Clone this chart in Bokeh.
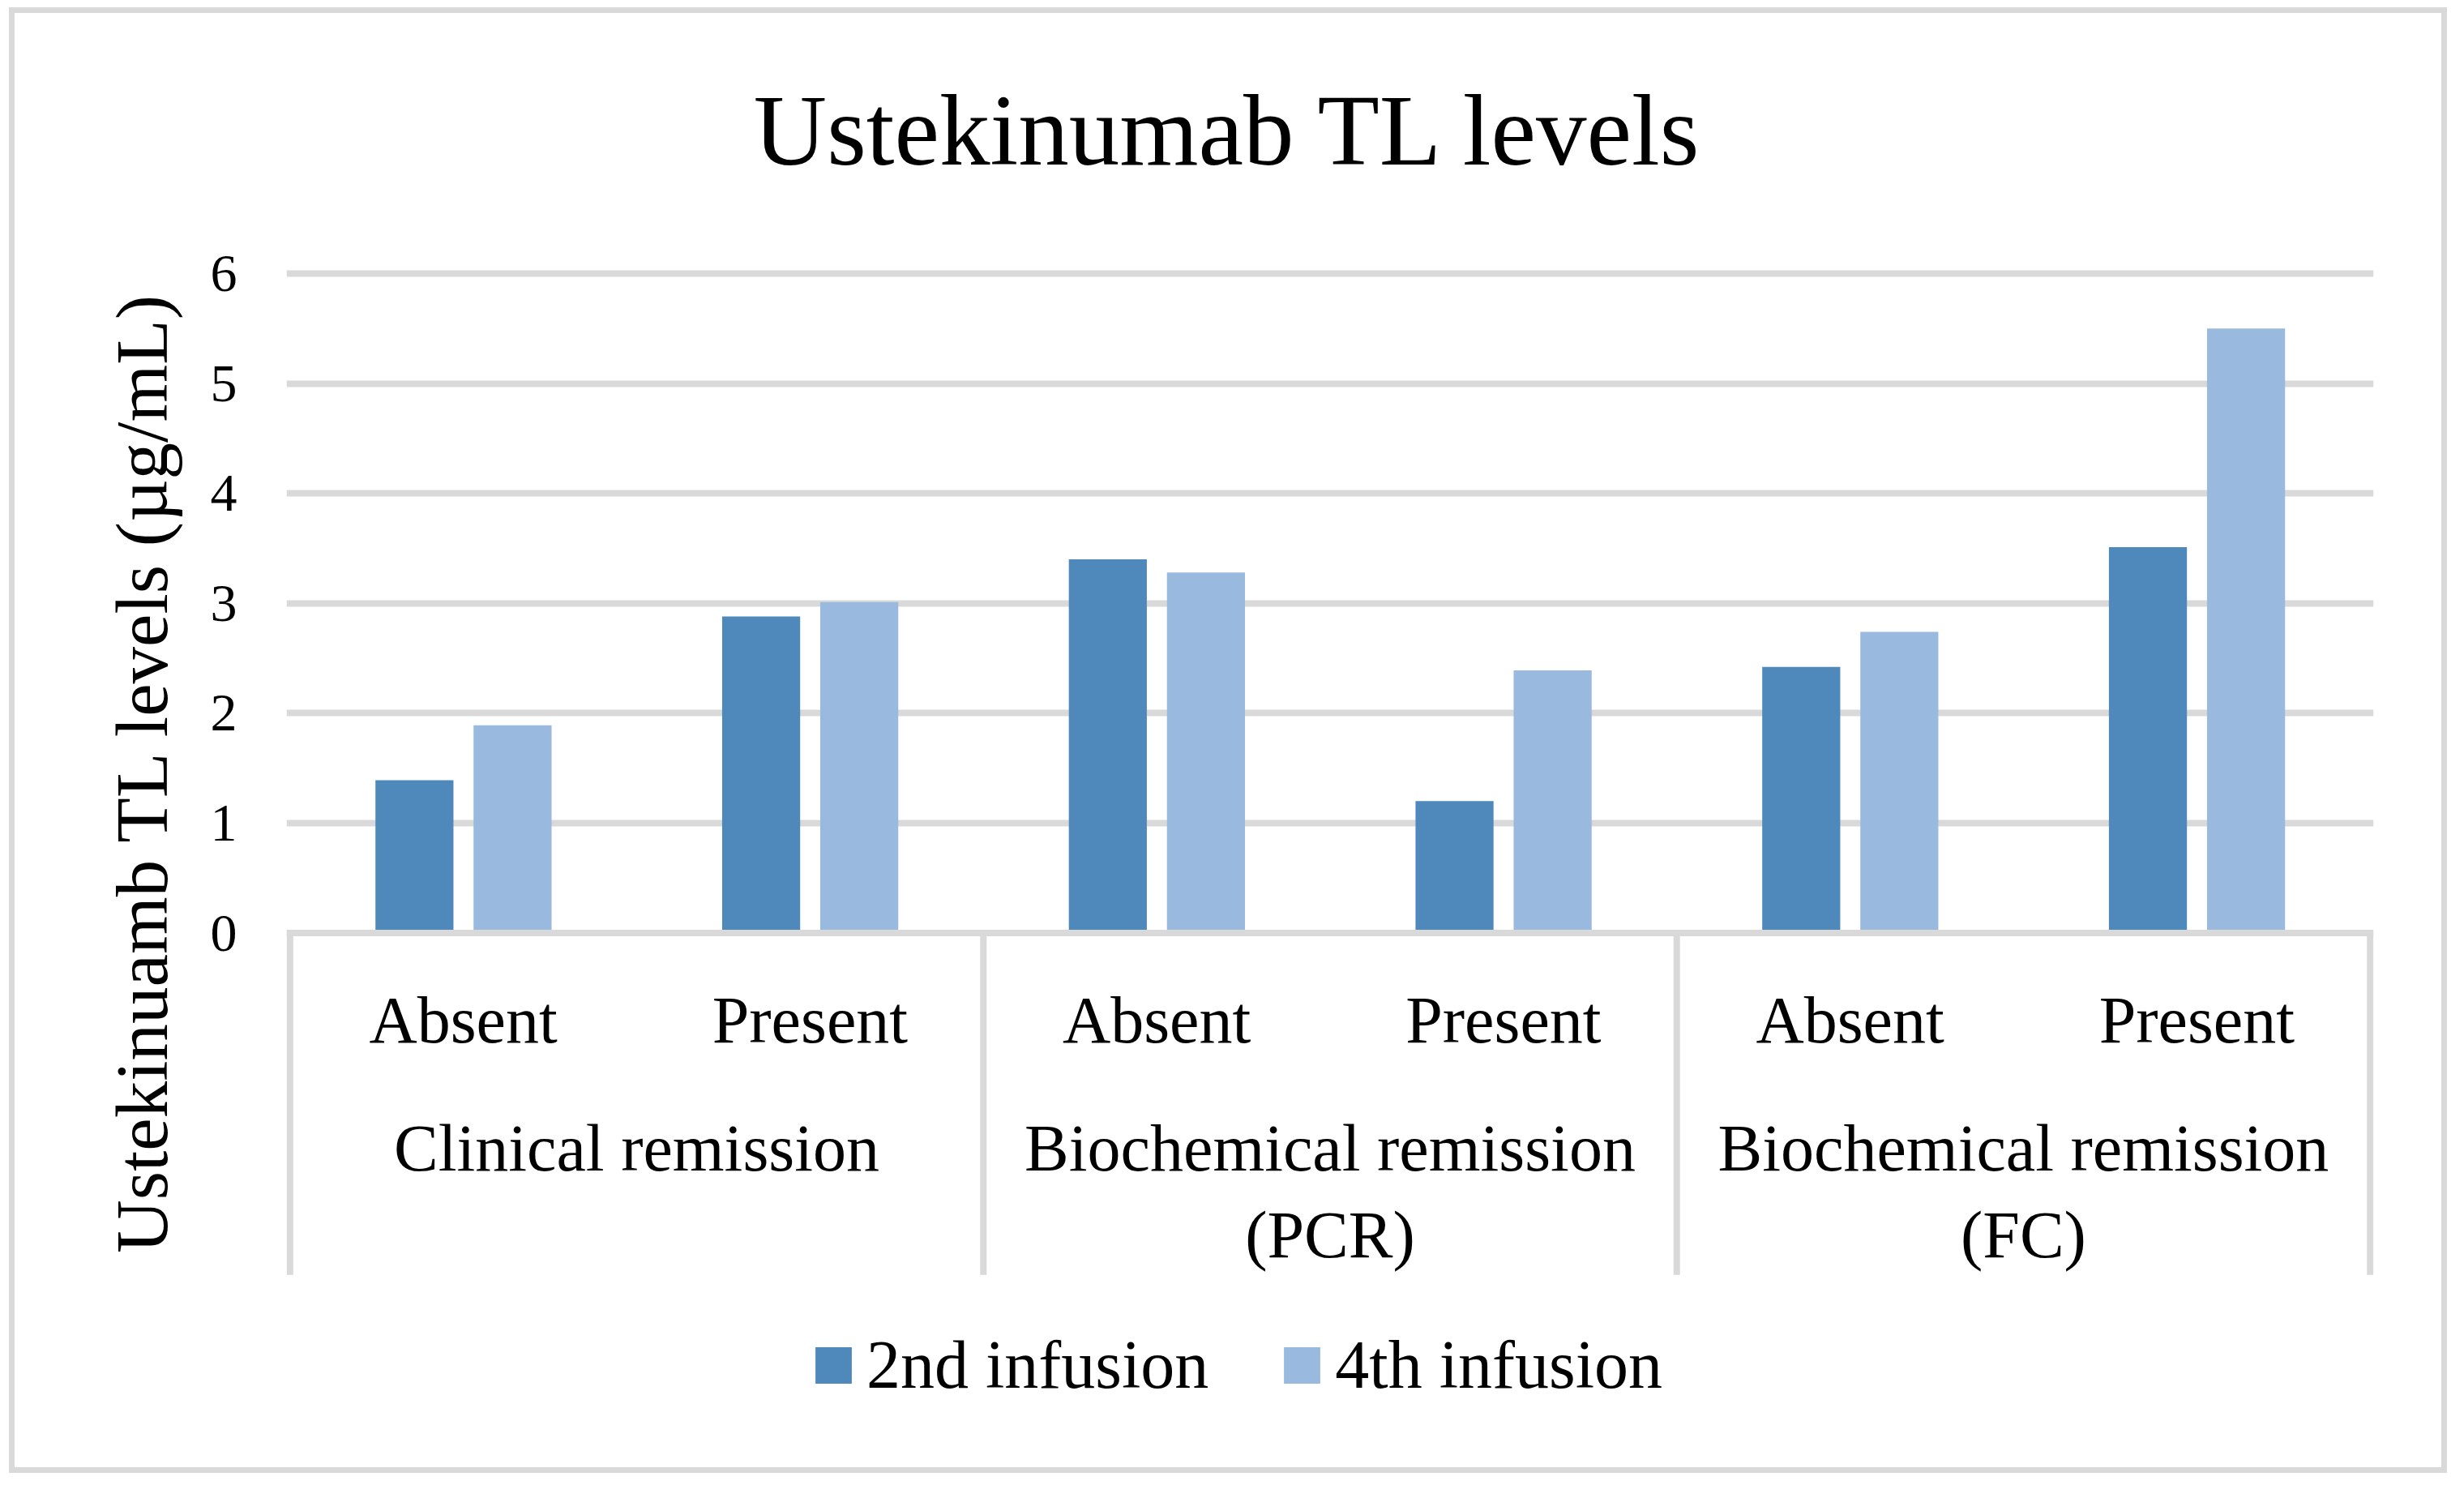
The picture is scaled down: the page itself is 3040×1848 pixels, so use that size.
from bokeh.plotting import figure
from bokeh.layouts import column, row
from bokeh.models import (FactorRange, Range1d, FixedTicker, Span, Label, Legend,
                          LegendItem, ColumnDataSource, Spacer)
from bokeh.transform import dodge
from bokeh.core.properties import value
from bokeh.embed import file_html
from bokeh.resources import INLINE

# ---------------- data ----------------
groups = ["Clinical remission", "Biochemical remission\n(PCR)", "Biochemical remission\n(FC)"]
subs = ["Absent", "Present"]
series_names = ["2nd infusion", "4th infusion"]
infusion_2nd = [1.39, 2.88, 3.40, 1.20, 2.42, 3.51]
infusion_4th = [1.89, 3.01, 3.28, 2.39, 2.74, 5.50]
y_ticks = [0, 1, 2, 3, 4, 5, 6]
title_text = "Ustekinumab TL levels"
y_title = "Ustekinuamb TL levels (µg/mL)"

factors = [(g, s) for g in groups for s in subs]
colors = ["#4F89BC", "#99B9DF"]
FONT = "Liberation Serif"
GRID = "#D9D9D9"

src = ColumnDataSource(dict(x=factors, v2=infusion_2nd, v4=infusion_4th))

x_range = FactorRange(*factors, factor_padding=0, group_padding=0, subgroup_padding=0,
                      range_padding=0.01, range_padding_units="absolute")

p = figure(x_range=x_range, y_range=Range1d(-4.731, 7.659),
           width=3008, height=1808, output_backend="svg", toolbar_location=None,
           x_axis_location=None,
           min_border_left=335, min_border_right=98, min_border_top=96,
           min_border_bottom=32)
p.title.visible = False
p.styles = {"border": "7px solid #D9D9D9", "box-sizing": "border-box"}
p.outline_line_color = None
p.background_fill_color = "white"
p.border_fill_color = "white"

# grid
p.xgrid.grid_line_color = None
p.ygrid.ticker = FixedTicker(ticks=y_ticks[1:])
p.ygrid.grid_line_color = GRID
p.ygrid.grid_line_width = 8

# bars
r2 = p.vbar(x=dodge("x", -0.141, range=p.x_range), top="v2", width=0.225, bottom=0,
            source=src, fill_color=colors[0], line_color=None)
r4 = p.vbar(x=dodge("x", 0.142, range=p.x_range), top="v4", width=0.225, bottom=0,
            source=src, fill_color=colors[1], line_color=None)

# zero line (category axis line)
p.add_layout(Span(location=0, dimension="width", line_color=GRID, line_width=8))

# group separators
sep_x = [(groups[0], subs[0], -0.5)] + [(g, subs[-1], 0.5) for g in groups]
p.segment(x0=sep_x, x1=sep_x, y0=[0] * len(sep_x), y1=[-3.11] * len(sep_x),
          line_color=GRID, line_width=8)

# category labels
p.text(x=factors, y=[-0.79] * len(factors), text=[f[1] for f in factors],
       text_font=value(FONT), text_font_size="82px", text_align="center",
       text_baseline="middle", text_color="black")
p.text(x=groups, y=[-1.626] * len(groups), text=groups,
       text_font=value(FONT), text_font_size="82px", text_align="center",
       text_baseline="top", text_color="black", text_line_height=1.17)

# y axis
yax = p.yaxis[0]
yax.ticker = FixedTicker(ticks=y_ticks)
yax.axis_line_color = None
yax.major_tick_line_color = None
yax.minor_tick_line_color = None
yax.major_tick_out = 0
yax.major_tick_in = 0
yax.major_label_standoff = 61
yax.major_label_text_font = FONT
yax.major_label_text_font_size = "66px"
yax.major_label_text_color = "black"
yax.axis_label = y_title
yax.axis_label_text_font = FONT
yax.axis_label_text_font_size = "91px"
yax.axis_label_text_font_style = "normal"
yax.axis_label_text_color = "black"
yax.axis_label_standoff = 31

# title
p.add_layout(Label(x=2.709, y=7.30, text=title_text, text_font=FONT,
                   text_font_size="125px", text_align="center",
                   text_baseline="alphabetic", text_color="black"))

# legend
legend = Legend(items=[LegendItem(label=series_names[0], renderers=[r2]),
                       LegendItem(label=series_names[1], renderers=[r4])],
                orientation="horizontal", location=(647, 60),
                glyph_width=56, glyph_height=56, label_standoff=13, spacing=87,
                label_text_font=FONT, label_text_font_size="84px",
                label_text_color="black", padding=0, margin=0,
                border_line_color=None, background_fill_alpha=0)
p.add_layout(legend, "center")

# offset of the chart area inside the page
page = column(Spacer(width=3019, height=9),
              row(Spacer(width=11, height=1808), p))

open("out.html", "w").write(file_html(page, INLINE))
